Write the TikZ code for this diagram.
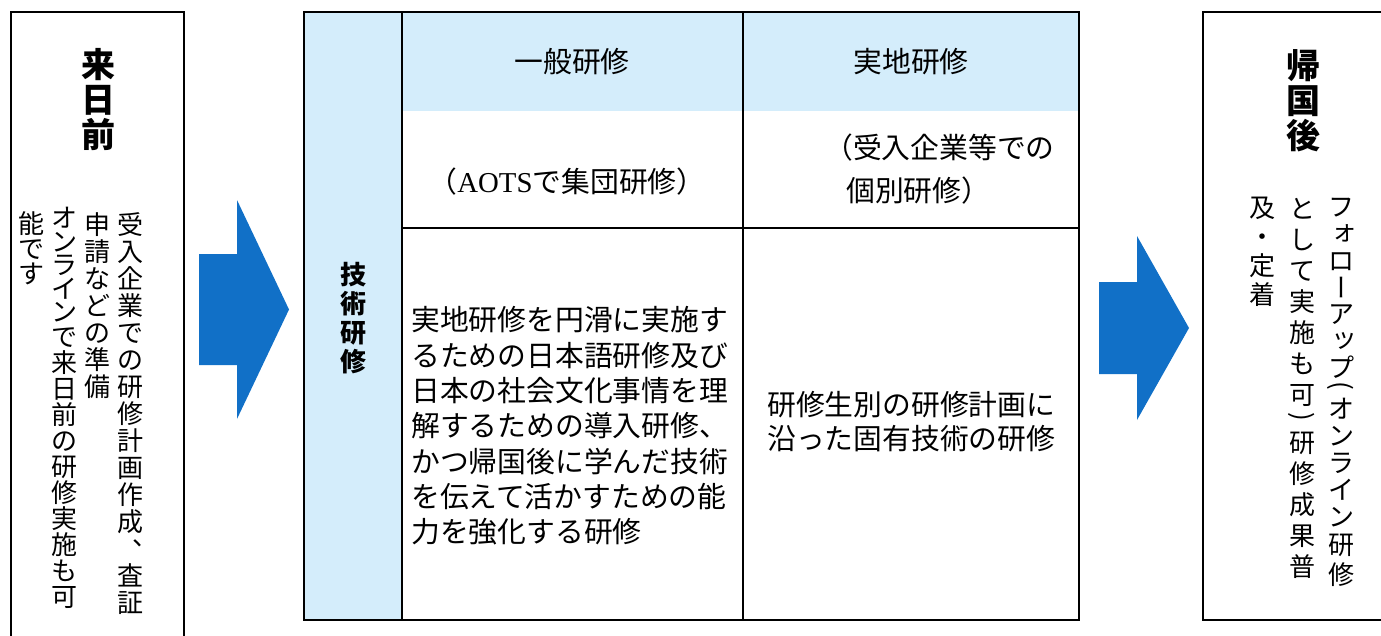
\documentclass[tikz,border=0pt]{standalone}
\usepackage{fontspec}
\usepackage{graphicx}
\setmainfont{Noto Sans CJK JP}
\newfontfamily\latinserif{Liberation Serif}
\definecolor{lightcell}{RGB}{212,237,251}
\definecolor{arrowblue}{RGB}{17,112,199}
% ---------- vertical text machinery ----------
\newdimen\vtpitch \newdimen\vtkj \newdimen\vtka
\def\vtw{1.02em}
\def\vtend{VTEND}
\def\vtloop#1{\ifx#1\vtend\else\ifcat\noexpand#1\relax#1\else\vtchar{#1}\fi\expandafter\vtloop\fi}
\def\vtchar#1{\hbox to\vtw{\hss\vbox to\vtpitch{\vss\hbox{\vrule height.88em depth.12em width0pt#1}\vss}\hss}}
\def\vtsp#1#2{\hbox to\vtw{\hss\vbox to#2\vtpitch{\vss\hbox{#1}\vss}\hss}}
\newcommand\vcolumn[3]{\vbox{\offinterlineskip\vtkj=#1\relax\vtka=#2\relax\vtpitch=\vtkj\vtloop#3\vtend}}
\def\vK{\vtpitch=\vtka\relax}
\def\vJ{\vtpitch=\vtkj\relax}
\def\vLP{\vtsp{\rotatebox[origin=c]{-90}{(}}{.55}}
\def\vRP{\vtsp{\rotatebox[origin=c]{-90}{)}}{.55}}
\def\vBar{\vtsp{\rotatebox[origin=c]{-90}{\vrule height.88em depth.12em width0pt ー}}{1}}
\def\vtsmallk#1{\hbox{\kern.12em\raisebox{.12em}[.88em][.12em]{#1}\kern-.12em}}
\def\vSo{\vtsp{\vtsmallk{ォ}}{1}}
\def\vStu{\vtsp{\vtsmallk{ッ}}{1}}
\def\vCm{\vtsp{\hbox to 1em{\kern.58em\raisebox{.5em}[.88em][.12em]{\rlap{、}}\hss}}{1}}
% ---------- fonts ----------
\newcommand\myvbody{\fontsize{26pt}{30pt}\selectfont}
\newcommand\myhead{\bfseries\fontsize{34pt}{40pt}\selectfont}
\newcommand\mycell{\fontsize{28.8pt}{35pt}\selectfont}
\begin{document}
\begin{tikzpicture}[x=1pt,y=-1pt,line width=2.4pt,
  vt/.style={inner sep=0pt,anchor=north},
  celltext/.style={inner sep=0pt,font=\mycell},
  bodyline/.style={inner sep=0pt,anchor=west,font=\mycell}]
\useasboundingbox (0,0) rectangle (1381,635);
\clip (0,0) rectangle (1381,635);
% ---------- left box ----------
\draw (11,645) -- (11,12) -- (184,12) -- (184,645);
\node[vt,font=\myhead] (pre) at (98,46) {\vcolumn{35pt}{35pt}{来日前}};
\node[vt,font=\myvbody] (pre1) at (130,210) {\vcolumn{27pt}{23.5pt}{受入企業での研修計画作成\vCm 査証}};
\node[vt,font=\myvbody] (pre2) at (97,210) {\vcolumn{27pt}{23.5pt}{申請などの準備}};
\node[vt,font=\myvbody] (pre3) at (64,205) {\vcolumn{26pt}{23.5pt}{\vK オンライン\vJ で来日前の研修実施も可}};
\node[vt,font=\myvbody] (pre4) at (32,210) {\vcolumn{25pt}{25pt}{能です}};
% ---------- arrows ----------
\fill[arrowblue] (199,254) -- (237,254) -- (237,200) -- (289,309.5) -- (237,419) -- (237,365) -- (199,365) -- cycle;
\fill[arrowblue] (1099,282) -- (1137,282) -- (1137,236) -- (1189,328) -- (1137,420) -- (1137,374) -- (1099,374) -- cycle;
% ---------- table ----------
\fill[lightcell] (304,12) rectangle (402,620);
\fill[lightcell] (402,12) rectangle (1079,111);
\draw (304,12) rectangle (1079,620);
\draw (402,12) -- (402,620);
\draw (743,12) -- (743,620);
\draw (402,228) -- (1079,228);
\node[vt,font=\bfseries\fontsize{26pt}{30pt}\selectfont] (tech) at (353,259) {\vcolumn{29pt}{29pt}{技術研修}};
\node[celltext] (h1) at (572,62) {一般研修};
\node[celltext] (h2) at (911,62) {実地研修};
\node[celltext] (s1) at (567,182) {（{\latinserif AOTS}で集団研修）};
\node[celltext,anchor=west] (s2a) at (823,148) {（受入企業等での};
\node[celltext,anchor=west] (s2b) at (845,191) {個別研修）};
\foreach \t [count=\i] in {実地研修を円滑に実施す,るための日本語研修及び,日本の社会文化事情を理,解するための導入研修、,かつ帰国後に学んだ技術,を伝えて活かすための能,力を強化する研修}
  {\node[bodyline] (b\i) at (410,{320+35.3*(\i-1)}) {\t};}
\node[bodyline] (c1) at (766,405) {研修生別の研修計画に};
\node[bodyline] (c2) at (766,439) {沿った固有技術の研修};
% ---------- right box ----------
\draw (1390,12) -- (1203,12) -- (1203,620) -- (1390,620);
\node[vt,font=\myhead] (post) at (1303,47) {\vcolumn{35pt}{35pt}{帰国後}};
\node[vt,font=\myvbody] (post1) at (1341,192) {\vcolumn{30pt}{26.8pt}{\vK フ\vSo ロ\vBar ア\vStu プ\vLP オンライン\vJ 研修}};
\node[vt,font=\myvbody] (post2) at (1302,192) {\vcolumn{31pt}{26.8pt}{として実施も可\vRP 研修成果普}};
\node[vt,font=\myvbody] (post3) at (1262,192) {\vcolumn{29pt}{26.8pt}{及・定着}};
\end{tikzpicture}
\end{document}
